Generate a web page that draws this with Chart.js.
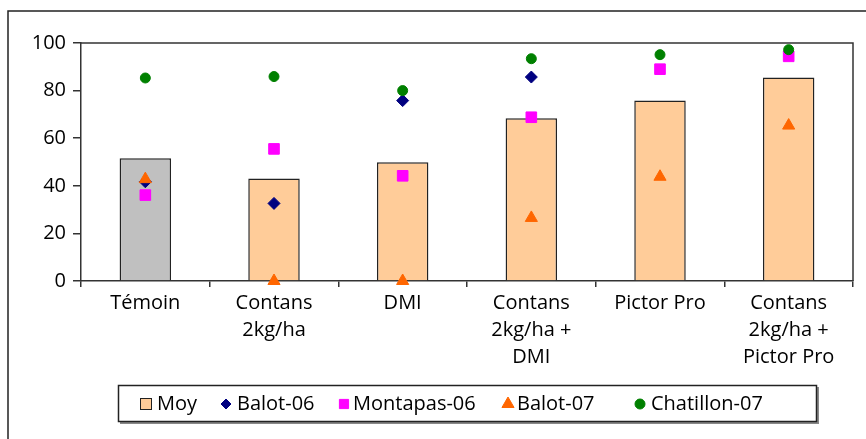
<!DOCTYPE html>
<html lang="fr">
<head>
    <meta charset="UTF-8">
    <title>Moy / essais</title>
    <script src="https://cdn.jsdelivr.net/npm/chart.js"></script>
    <style>
        html, body { margin: 0; padding: 0; background: #fff; }
        canvas { display: block; }
    </style>
</head>
<body>
    <canvas id="chart" width="866" height="439"></canvas>
    <script>
        const categories = ["Témoin", ["Contans", "2kg/ha"], "DMI", ["Contans", "2kg/ha +", "DMI"], "Pictor Pro", ["Contans", "2kg/ha +", "Pictor Pro"]];
        const moy = [51.6, 43.1, 49.9, 68.4, 75.8, 85.5];
        const balot06 = [41.7, 32.6, 75.8, 85.7, null, null];
        const montapas06 = [36.1, 55.5, 44.2, 68.8, 89.0, 94.4];
        const balot07 = [42.8, 0, 0, 26.5, 43.8, 65.3];
        const chatillon07 = [85.3, 85.9, 80.0, 93.4, 95.1, 97.2];
        const yTicks = [0, 20, 40, 60, 80, 100];

        const FONT = "'Open Sans', 'DejaVu Sans', sans-serif";
        const barColors = moy.map((v, i) => i === 0 ? "#C0C0C0" : "#FFCC99");

        function markers(label, data, style, color, radius, order) {
            return {
                type: "line", label, data, order,
                showLine: false, clip: false,
                pointStyle: style, pointRadius: radius, pointHoverRadius: radius,
                pointBackgroundColor: color, pointBorderColor: color, pointBorderWidth: 1
            };
        }

        // legend spots as in the original (marker centre, text start)
        const legendSpots = [[146, 157, 0], [226, 237, 5], [344, 353, 6.5], [508, 517, 7], [640, 651, 5]];

        const frame = {
            id: "frame",
            beforeDraw(chart) {
                const ctx = chart.ctx;
                ctx.save();
                ctx.strokeStyle = "#222";
                ctx.lineWidth = 1.5;
                ctx.beginPath();
                ctx.moveTo(8, 439); ctx.lineTo(8, 11); ctx.lineTo(866, 11);
                ctx.stroke();
                ctx.restore();
            },
            afterDraw(chart) {
                const ctx = chart.ctx, a = chart.chartArea;
                ctx.save();
                ctx.strokeStyle = "#333";
                ctx.lineWidth = 1.5;
                ctx.beginPath();
                ctx.moveTo(a.left, a.top); ctx.lineTo(a.right, a.top); ctx.lineTo(a.right, a.bottom);
                ctx.stroke();
                // legend box
                ctx.fillStyle = "#888";
                ctx.fillRect(120, 422, 699, 2);
                ctx.fillRect(817, 387, 2, 37);
                ctx.fillStyle = "#fff";
                ctx.fillRect(118, 385, 699, 37);
                ctx.strokeStyle = "#222";
                ctx.strokeRect(118.5, 385.5, 698, 36);
                ctx.font = "20px " + FONT;
                ctx.textBaseline = "middle";
                chart.data.datasets.forEach((ds, i) => {
                    const [mx, tx, r] = legendSpots[i];
                    const y = 404;
                    if (ds.type === "bar") {
                        ctx.fillStyle = "#FFCC99";
                        ctx.fillRect(mx - 5.5, y - 5.5, 11, 11);
                        ctx.lineWidth = 1;
                        ctx.strokeStyle = "#222";
                        ctx.strokeRect(mx - 5.5, y - 5.5, 11, 11);
                    } else {
                        ctx.fillStyle = ds.pointBackgroundColor;
                        ctx.strokeStyle = ds.pointBorderColor;
                        ctx.lineWidth = 1;
                        Chart.helpers.drawPoint(ctx, { pointStyle: ds.pointStyle, radius: r, rotation: 0, borderWidth: 1 }, mx, y);
                    }
                    ctx.fillStyle = "#000";
                    ctx.fillText(ds.label, tx, y);
                });
                ctx.restore();
            }
        };

        new Chart(document.getElementById("chart"), {
            data: {
                labels: categories,
                datasets: [
                    { type: "bar", label: "Moy", data: moy, order: 5, backgroundColor: barColors, borderColor: "#222", borderWidth: 1.5, barPercentage: 0.4, categoryPercentage: 1 },
                    markers("Balot-06", balot06, "rectRot", "#000080", 6, 4),
                    markers("Montapas-06", montapas06, "rect", "#FF00FF", 7.5, 3),
                    markers("Balot-07", balot07, "triangle", "#FF6600", 7, 2),
                    markers("Chatillon-07", chatillon07, "circle", "#008000", 5, 1)
                ]
            },
            options: {
                responsive: false,
                animation: false,
                layout: { padding: { left: 0, right: 13, top: 43, bottom: 0 } },
                plugins: { legend: { display: false }, tooltip: { enabled: false } },
                scales: {
                    x: {
                        offset: true,
                        grid: { offset: true, drawOnChartArea: false, tickLength: 6, color: "#333", lineWidth: 1.5 },
                        border: { color: "#333", width: 1.5 },
                        ticks: { color: "#000", padding: 3, maxRotation: 0, autoSkip: false, font: { family: FONT, size: 20, lineHeight: 1.35 } },
                        afterFit(s) { s.height = 158; }
                    },
                    y: {
                        min: 0, max: 100,
                        afterBuildTicks(s) { s.ticks = yTicks.map(v => ({ value: v })); },
                        grid: { drawOnChartArea: false, tickLength: 8, color: "#333", lineWidth: 1.5 },
                        border: { color: "#333", width: 1.5 },
                        ticks: { color: "#000", padding: 7, font: { family: FONT, size: 20 } },
                        afterFit(s) { s.width = 81; }
                    }
                }
            },
            plugins: [frame]
        });
    </script>
</body>
</html>
